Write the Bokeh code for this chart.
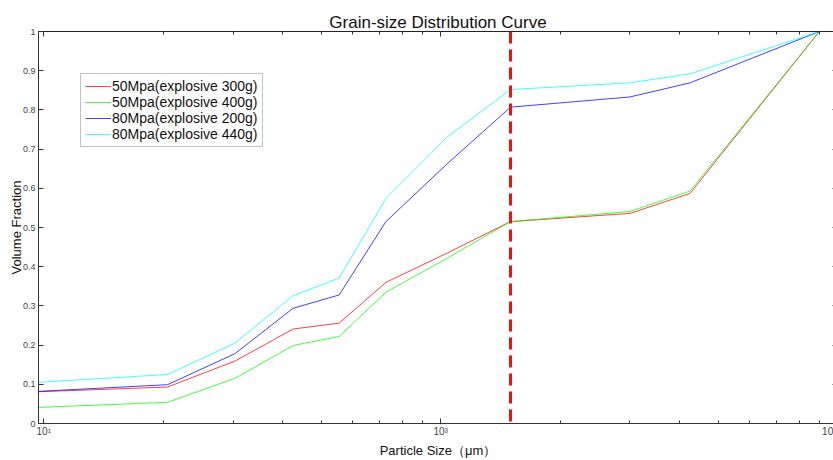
from bokeh.plotting import figure
from bokeh.models import FixedTicker, LogAxis, LinearAxis, Span, Legend, LegendItem, Range1d
from bokeh.embed import file_html
from bokeh.resources import INLINE

particle_size = [97, 205, 303, 425, 555, 728, 1040, 1500, 3000, 4250, 9000]
s50_300 = [0.081, 0.093, 0.159, 0.241, 0.256, 0.360, 0.435, 0.515, 0.536, 0.587, 1.0]
s50_400 = [0.041, 0.054, 0.115, 0.199, 0.222, 0.335, 0.422, 0.515, 0.541, 0.593, 1.0]
s80_200 = [0.082, 0.099, 0.178, 0.294, 0.328, 0.515, 0.663, 0.807, 0.833, 0.869, 1.0]
s80_440 = [0.105, 0.125, 0.205, 0.326, 0.371, 0.574, 0.731, 0.852, 0.869, 0.892, 1.0]
series_names = ["50Mpa(explosive 300g)", "50Mpa(explosive 400g)",
                "80Mpa(explosive 200g)", "80Mpa(explosive 440g)"]
series_colors = ["#ff0000", "#00ff00", "#0000ff", "#00ffff"]
divider_size = 1500
x_major = [100, 1000, 10000]
x_major_labels = {100: "10¹", 1000: "10³", 10000: "10⁴"}
x_minor = [200, 300, 400, 500, 600, 700, 800, 900,
           2000, 3000, 4000, 5000, 6000, 7000, 8000, 9000]
y_ticks = [0, 0.1, 0.2, 0.3, 0.4, 0.5, 0.6, 0.7, 0.8, 0.9, 1]
y_labels = {0: "0", 0.1: "0.1", 0.2: "0.2", 0.3: "0.3", 0.4: "0.4", 0.5: "0.5",
            0.6: "0.6", 0.7: "0.7", 0.8: "0.8", 0.9: "0.9", 1: "1"}

FONT = "Liberation Sans"

p = figure(width=837, height=460, x_axis_type="log",
           x_range=Range1d(particle_size[0], 10000), y_range=Range1d(0, 1),
           output_backend="svg", toolbar_location=None,
           title="Grain-size Distribution Curve",
           min_border_left=38, min_border_right=0, min_border_top=31, min_border_bottom=36)
p.title.align = "center"
p.title.text_font = FONT
p.title.text_font_size = "17px"
p.title.text_font_style = "normal"
p.title.text_color = "#111111"
p.title.offset = 0
p.title.standoff = 0

p.xgrid.visible = False
p.ygrid.visible = False
p.outline_line_color = "#222222"
p.outline_line_width = 1
p.background_fill_color = "white"
p.border_fill_color = "white"

xt = FixedTicker(ticks=x_major, minor_ticks=x_minor)
yt = FixedTicker(ticks=y_ticks, minor_ticks=[])

xa = p.xaxis[0]
xa.ticker = xt
xa.major_label_overrides = x_major_labels
xa.axis_label = "Particle Size（μm）"
ya = p.yaxis[0]
ya.ticker = yt
ya.major_label_overrides = y_labels
ya.axis_label = "Volume Fraction"

for ax in (xa, ya):
    ax.major_tick_in = 5
    ax.major_tick_out = 0
    ax.minor_tick_in = 3
    ax.minor_tick_out = 0
    ax.axis_line_color = "#333333"
    ax.major_tick_line_color = "#333333"
    ax.minor_tick_line_color = "#333333"
    ax.major_label_text_font = FONT
    ax.major_label_text_font_size = "10px"
    ax.major_label_text_color = "#444444"
    ax.axis_label_text_font = FONT
    ax.axis_label_text_font_size = "13px"
    ax.axis_label_text_font_style = "normal"
    ax.axis_label_text_color = "#111111"
    ax.major_label_standoff = 2
    ax.axis_label_standoff = 3
ya.major_label_text_font_size = "9px"
ya.major_label_standoff = 3
ya.axis_label_standoff = -4

top = LogAxis(ticker=xt, major_label_text_font_size="1px", major_label_text_alpha=0,
              major_tick_in=5, major_tick_out=0,
              minor_tick_in=3, minor_tick_out=0, major_label_standoff=0,
              axis_line_color="#222222", major_tick_line_color="#333333",
              minor_tick_line_color="#333333")
right = LinearAxis(ticker=yt, major_label_text_font_size="1px", major_label_text_alpha=0,
                   major_tick_in=5, major_tick_out=0,
                   minor_tick_in=0, minor_tick_out=0, major_label_standoff=0,
                   axis_line_color="#222222", major_tick_line_color="#333333")
p.add_layout(top, "above")
p.add_layout(right, "right")

items = []
for vals, name, col in zip([s50_300, s50_400, s80_200, s80_440], series_names, series_colors):
    r = p.line(particle_size, vals, line_color=col, line_width=1, line_alpha=0.75)
    items.append(LegendItem(label=name, renderers=[r]))

p.add_layout(Span(location=divider_size, dimension="height", line_color="#ee1111",
                  line_width=3, line_dash="12 6"))

legend = Legend(items=items, location="top_left", margin=42,
                label_text_font=FONT, label_text_font_size="14px", label_text_color="#111111",
                label_height=14, label_standoff=1, glyph_width=26, glyph_height=14,
                spacing=0, padding=4,
                border_line_color="#888888", border_line_width=1,
                background_fill_color="white", background_fill_alpha=1)
p.add_layout(legend)

open("out.html", "w").write(file_html(p, INLINE))
